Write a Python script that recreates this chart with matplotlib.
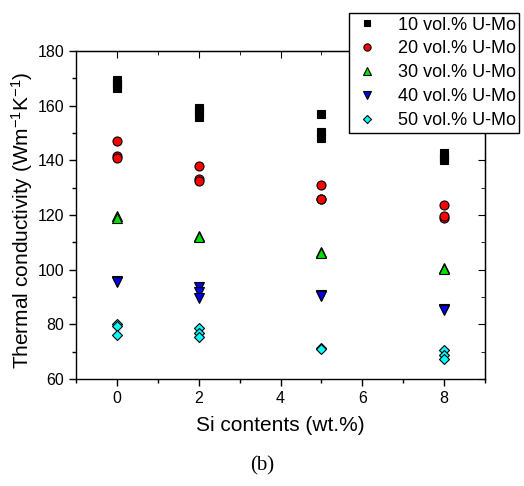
import matplotlib
matplotlib.use("Agg")
import matplotlib.pyplot as plt
from matplotlib.ticker import MultipleLocator

plt.rcParams['font.family'] = ['Liberation Sans', 'DejaVu Sans']
plt.rcParams['mathtext.fontset'] = 'custom'
plt.rcParams['mathtext.rm'] = 'Liberation Sans'
plt.rcParams['mathtext.it'] = 'Liberation Sans'

si = [0, 2, 5, 8]
v10 = [[169.5, 168, 166.5], [159, 157.5, 156], [157, 150.5, 148], [142.5, 141, 140]]
v20 = [[147, 141.5, 141], [138, 133, 132.5], [131, 126, 125.8], [123.5, 119, 119.5]]
v30 = [[119.5, 119], [112.2, 112], [106.4, 106.2], [100.5, 100.3]]
v40 = [[96, 95.4], [93.5, 92, 89.5], [90.8, 90.5], [85.7, 85.4]]
v50 = [[80, 79.5, 76], [78.5, 76.8, 75.3], [71.4, 70.9], [70.5, 68.7, 67.3]]
labels = ['10 vol.% U-Mo', '20 vol.% U-Mo', '30 vol.% U-Mo', '40 vol.% U-Mo', '50 vol.% U-Mo']

series = [v10, v20, v30, v40, v50]
styles = [dict(marker='s', color='black', mec='black', ms=5.5),
          dict(marker='o', color='red', mec='black', ms=6.5),
          dict(marker='^', color='#00e000', mec='black', ms=6.5),
          dict(marker='v', color='#0000e0', mec='black', ms=6.5),
          dict(marker='D', color='cyan', mec='black', ms=5.5)]

fig = plt.figure(figsize=(5.24, 4.86), dpi=100)
ax = fig.add_axes([76/524, 1 - 379/486, 409/524, 328/486])

handles = []
for vals, st, lab in zip(series, styles, labels):
    xs, ys = [], []
    for x, group in zip(si, vals):
        for y in group:
            xs.append(x)
            ys.append(y)
    h, = ax.plot(xs, ys, linestyle='none', marker=st['marker'], mfc=st['color'],
                 mec=st['mec'], ms=st['ms'], mew=0.8, label=lab)
    handles.append(h)

ax.set_xlim(-1, 9)
ax.set_ylim(60, 180)
ax.xaxis.set_major_locator(MultipleLocator(2))
ax.xaxis.set_minor_locator(MultipleLocator(1))
ax.yaxis.set_major_locator(MultipleLocator(20))
ax.yaxis.set_minor_locator(MultipleLocator(10))
ax.tick_params(which='both', direction='out', labelsize=11.5, width=1)
ax.tick_params(which='major', length=5)
ax.tick_params(which='minor', length=3)
for s in ax.spines.values():
    s.set_linewidth(1)

# mirrored inward ticks on top/right
axt = ax.secondary_xaxis('top')
axt.xaxis.set_major_locator(MultipleLocator(2))
axt.xaxis.set_minor_locator(MultipleLocator(1))
axt.tick_params(which='both', direction='in', labeltop=False)
axt.tick_params(which='major', length=5)
axt.tick_params(which='minor', length=3)
axr = ax.secondary_yaxis('right')
axr.yaxis.set_major_locator(MultipleLocator(20))
axr.yaxis.set_minor_locator(MultipleLocator(10))
axr.tick_params(which='both', direction='in', labelright=False)
axr.tick_params(which='major', length=5)
axr.tick_params(which='minor', length=3)

ax.set_xlabel('Si contents (wt.%)', fontsize=15, labelpad=7)
ax.set_ylabel('Thermal conductivity (Wm$^{-1}$K$^{-1}$)', fontsize=15)
ax.yaxis.set_label_coords(-0.1, 0.485)

leg = fig.legend(handles=handles, loc='upper left', bbox_to_anchor=(349/524, 1 - 13/486),
                 fontsize=13, frameon=True, fancybox=False, edgecolor='black',
                 framealpha=1, borderpad=0.2, labelspacing=0.38, handletextpad=0.9,
                 handlelength=1.6, borderaxespad=0, markerscale=0.8)
leg.get_frame().set_linewidth(1)

fig.text(0.5, 1 - 466/486, '(b)', ha='center', va='center', fontsize=15,
         family=['Liberation Serif', 'DejaVu Serif'])

fig.savefig('out.png', dpi=100)
